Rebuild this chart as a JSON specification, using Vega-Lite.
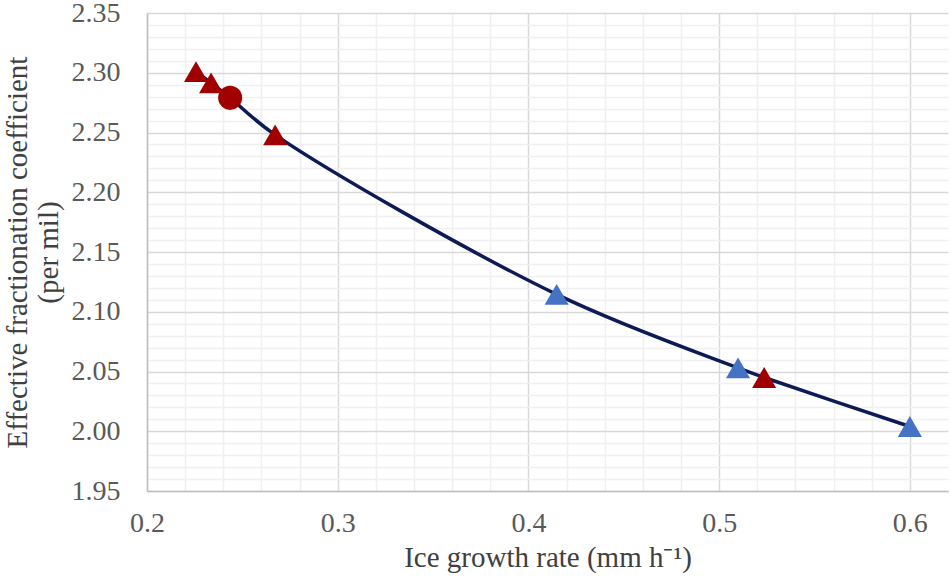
{
  "$schema": "https://vega.github.io/schema/vega-lite/v6.json",
  "autosize": "none",
  "width": 801,
  "height": 478,
  "padding": {"left": 147, "top": 13, "right": 2, "bottom": 94},
  "background": "white",
  "config": {
    "view": {"stroke": null},
    "font": "Liberation Serif"
  },
  "data": {
    "values": [
      {"rate": 0.2257, "coef": 2.301, "series": "S1"},
      {"rate": 0.2336, "coef": 2.2915, "series": "S1"},
      {"rate": 0.2436, "coef": 2.279, "series": "S3"},
      {"rate": 0.2672, "coef": 2.248, "series": "S1"},
      {"rate": 0.4148, "coef": 2.1145, "series": "S2"},
      {"rate": 0.5099, "coef": 2.053, "series": "S2"},
      {"rate": 0.5236, "coef": 2.045, "series": "S1"},
      {"rate": 0.6, "coef": 2.004, "series": "S2"}
    ]
  },
  "encoding": {
    "x": {
      "field": "rate",
      "type": "quantitative",
      "scale": {"domain": [0.2, 0.62], "nice": false, "zero": false},
      "axis": {
        "title": "Ice growth rate (mm h⁻¹)",
        "values": [0.2, 0.22, 0.24, 0.26, 0.28, 0.3, 0.32, 0.34, 0.36, 0.38, 0.4, 0.42, 0.44, 0.46, 0.48, 0.5, 0.52, 0.54, 0.56, 0.58, 0.6],
        "labelExpr": "abs(datum.value * 10 - round(datum.value * 10)) < 0.001 ? format(datum.value, '.1f') : ''",
        "gridColor": {
          "condition": {"test": "abs(datum.value * 10 - round(datum.value * 10)) < 0.001", "value": "#d9d9d9"},
          "value": "#f0f0f0"
        },
        "gridWidth": 1.5,
        "domainColor": "#bfbfbf",
        "domainWidth": 1.5,
        "ticks": false,
        "labelOverlap": false,
        "labelFlush": false,
        "labelFont": "Liberation Serif",
        "labelFontSize": 28,
        "labelColor": "#595959",
        "labelPadding": 18,
        "titleFont": "Liberation Serif",
        "titleFontSize": 29,
        "titleFontWeight": "normal",
        "titleColor": "#404040",
        "titlePadding": 6
      }
    },
    "y": {
      "field": "coef",
      "type": "quantitative",
      "scale": {"domain": [1.95, 2.35], "nice": false, "zero": false},
      "axis": {
        "title": ["Effective fractionation coefficient", "(per mil)"],
        "values": [1.95, 1.96, 1.97, 1.98, 1.99, 2.0, 2.01, 2.02, 2.03, 2.04, 2.05, 2.06, 2.07, 2.08, 2.09, 2.1, 2.11, 2.12, 2.13, 2.14, 2.15, 2.16, 2.17, 2.18, 2.19, 2.2, 2.21, 2.22, 2.23, 2.24, 2.25, 2.26, 2.27, 2.28, 2.29, 2.3, 2.31, 2.32, 2.33, 2.34, 2.35],
        "labelExpr": "abs(datum.value * 20 - round(datum.value * 20)) < 0.001 ? format(datum.value, '.2f') : ''",
        "gridColor": {
          "condition": {"test": "abs(datum.value * 20 - round(datum.value * 20)) < 0.001", "value": "#d9d9d9"},
          "value": "#f0f0f0"
        },
        "gridWidth": 1.5,
        "domainColor": "#bfbfbf",
        "domainWidth": 1.5,
        "ticks": false,
        "labelOverlap": false,
        "labelFlush": false,
        "labelFont": "Liberation Serif",
        "labelFontSize": 28,
        "labelColor": "#595959",
        "labelPadding": 27,
        "titleFont": "Liberation Serif",
        "titleFontSize": 29,
        "titleFontWeight": "normal",
        "titleColor": "#404040",
        "titlePadding": 8,
        "titleLineHeight": 31
      }
    }
  },
  "layer": [
    {
      "mark": {"type": "line", "interpolate": "catmull-rom", "color": "#0c1a55", "strokeWidth": 3.5},
      "encoding": {"order": {"field": "rate", "type": "quantitative"}}
    },
    {
      "mark": {"type": "point", "filled": true, "opacity": 1, "size": 580},
      "encoding": {
        "color": {
          "field": "series",
          "type": "nominal",
          "scale": {"domain": ["S1", "S2", "S3"], "range": ["#a00000", "#4472c4", "#a00000"]},
          "legend": null
        },
        "shape": {
          "field": "series",
          "type": "nominal",
          "scale": {"domain": ["S1", "S2", "S3"], "range": ["triangle-up", "triangle-up", "circle"]},
          "legend": null
        }
      }
    }
  ]
}
